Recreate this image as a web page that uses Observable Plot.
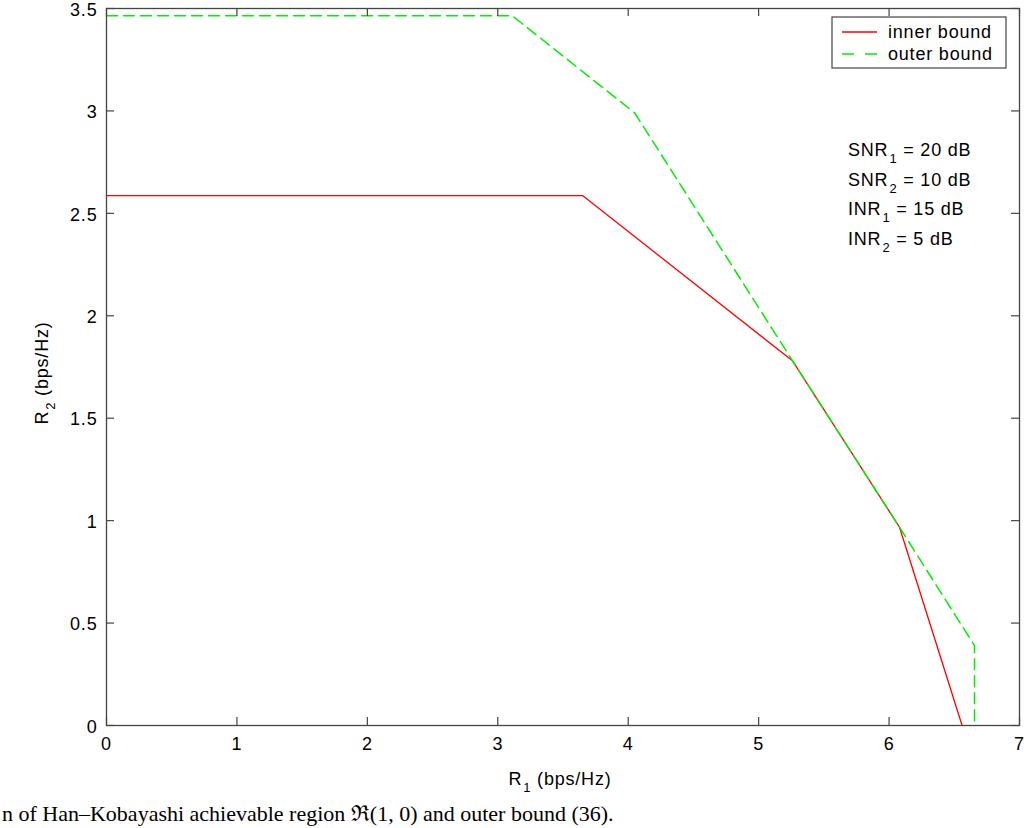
<!DOCTYPE html>
<html>
<head>
<meta charset="utf-8">
<script src="https://cdn.jsdelivr.net/npm/d3@7"></script>
<script src="https://cdn.jsdelivr.net/npm/@observablehq/plot@0.6"></script>
<style>
  html, body { margin: 0; padding: 0; background: #fff; }
  #wrap { position: relative; width: 1024px; height: 828px; overflow: hidden; }
  #caption { position: absolute; left: 2px; top: 803px; font-family: "Liberation Serif", "Times New Roman", serif; font-size: 22px; line-height: 22px; color: #000; white-space: nowrap; }
  svg text { letter-spacing: 0.8px; }
</style>
</head>
<body>
<div id="wrap"><div id="chart"></div><div id="caption"></div></div>
<script>
// ---- data ----
const innerR1 = [0, 3.65, 5.26, 6.08, 6.56];
const innerR2 = [2.587, 2.587, 1.78, 0.968, 0];
const outerR1 = [0, 3.11, 4.05, 5.26, 6.08, 6.655, 6.655];
const outerR2 = [3.465, 3.465, 2.99, 1.78, 0.968, 0.39, 0];
const xTicks = [0, 1, 2, 3, 4, 5, 6, 7];
const yTicks = [0, 0.5, 1, 1.5, 2, 2.5, 3, 3.5];
const legendLabels = ["inner bound", "outer bound"];
const annotations = [
  [["SNR", false], ["1", true], [" = 20 dB", false]],
  [["SNR", false], ["2", true], [" = 10 dB", false]],
  [["INR", false], ["1", true], [" = 15 dB", false]],
  [["INR", false], ["2", true], [" = 5 dB", false]]
];
const xLabel = [["R", false], ["1", true], [" (bps/Hz)", false]];
const yLabel = [["R", false], ["2", true], [" (bps/Hz)", false]];
const captionText = "n of Han\u2013Kobayashi achievable region \u211C(1, 0) and outer bound (36).";

const inner = innerR1.map((x, i) => ({x, y: innerR2[i]}));
const outer = outerR1.map((x, i) => ({x, y: outerR2[i]}));

const RED = "#ff0000", GREEN = "#00ee00", AX = "#444";
const W = 1024, H = 800, mL = 106, mR = 5, mT = 8, mB = 75;
const plotH = H - mT - mB, plotW = W - mL - mR;
const tickLen = 8;
const FS = 18;

const chart = Plot.plot({
  width: W, height: H,
  marginLeft: mL, marginRight: mR, marginTop: mT, marginBottom: mB,
  style: {fontFamily: "'Liberation Sans', Arial, Helvetica, sans-serif", fontSize: FS + "px", color: "#000", background: "#fff", overflow: "visible"},
  x: {domain: [0, 7]},
  y: {domain: [0, 3.5]},
  marks: [
    Plot.line(inner, {x: "x", y: "y", stroke: RED, strokeWidth: 1.3}),
    Plot.line(outer, {x: "x", y: "y", stroke: GREEN, strokeWidth: 1.5, strokeDasharray: "11,6"}),
    Plot.tickX(xTicks, {x: d => d, stroke: AX, strokeWidth: 1.2, insetTop: plotH - tickLen}),
    Plot.tickX(xTicks, {x: d => d, stroke: AX, strokeWidth: 1.2, insetBottom: plotH - tickLen}),
    Plot.tickY(yTicks, {y: d => d, stroke: AX, strokeWidth: 1.2, insetRight: plotW - tickLen}),
    Plot.tickY(yTicks, {y: d => d, stroke: AX, strokeWidth: 1.2, insetLeft: plotW - tickLen}),
    Plot.frame({stroke: AX, strokeWidth: 1.3}),
    Plot.axisX(xTicks, {tickSize: 0, tickPadding: 12, tickFormat: d => String(d), label: null, fontSize: FS}),
    Plot.axisY(yTicks, {tickSize: 0, tickPadding: 9, dy: 1.5, tickFormat: d => String(d), label: null, fontSize: FS})
  ]
});
document.getElementById("chart").appendChild(chart);

const svg = d3.select(chart);
const FONT = "'Liberation Sans', Arial, Helvetica, sans-serif";

function richText(parent, parts, attrs, size) {
  const t = parent.append("text").attr("font-family", FONT).attr("font-size", size)
    .attr("fill", "#000").attr("text-anchor", "start");
  Object.entries(attrs).forEach(([k, v]) => t.attr(k, v));
  let shifted = false;
  parts.forEach(([s, sub]) => {
    const ts = t.append("tspan").text(s);
    if (sub) { ts.attr("font-size", size * 0.72).attr("dx", 1).attr("dy", 7); shifted = true; }
    else if (shifted) { ts.attr("dy", -7); shifted = false; }
  });
  return t;
}

// axis labels
richText(svg, xLabel, {x: 560, y: 785, "text-anchor": "middle"}, FS);
richText(svg, yLabel, {transform: "translate(48,373) rotate(-90)", "text-anchor": "middle"}, FS);

// annotations
annotations.forEach((parts, i) => {
  richText(svg, parts, {x: 848, y: 156 + i * 29.6}, FS);
});

// legend
const lg = svg.append("g");
lg.append("rect").attr("x", 832).attr("y", 17).attr("width", 174).attr("height", 51)
  .attr("fill", "#fff").attr("stroke", AX).attr("stroke-width", 1.2);
lg.append("line").attr("x1", 842).attr("x2", 877).attr("y1", 32).attr("y2", 32)
  .attr("stroke", RED).attr("stroke-width", 1.3);
lg.append("line").attr("x1", 842).attr("x2", 877).attr("y1", 54).attr("y2", 54)
  .attr("stroke", GREEN).attr("stroke-width", 1.5).attr("stroke-dasharray", "12,11");
legendLabels.forEach((s, i) => {
  lg.append("text").attr("x", 888).attr("y", 38 + i * 22).attr("font-family", FONT)
    .attr("font-size", FS).attr("fill", "#000").attr("text-anchor", "start").text(s);
});

document.getElementById("caption").textContent = captionText;
</script>
</body>
</html>
